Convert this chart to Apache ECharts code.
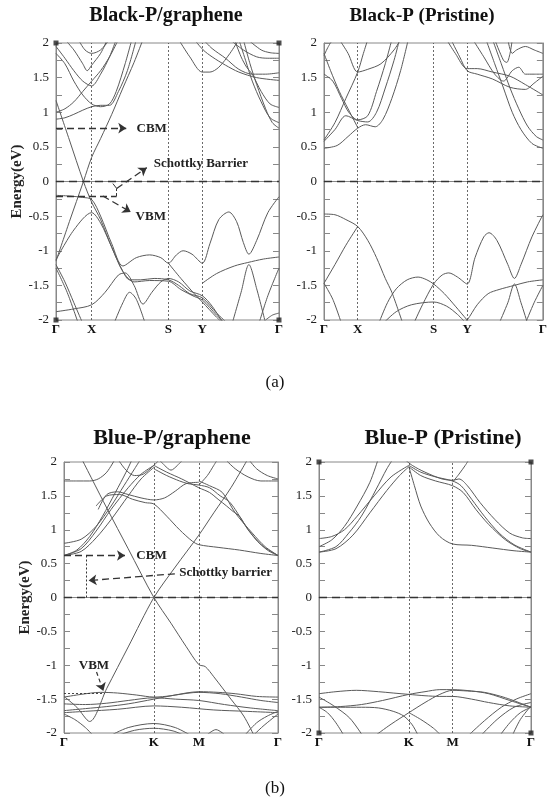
<!DOCTYPE html>
<html><head><meta charset="utf-8">
<script src="https://cdn.jsdelivr.net/npm/echarts@6/dist/echarts.min.js"></script>
<style>html,body{margin:0;padding:0;background:#fff}#c{width:550px;height:804px}</style>
</head><body><div id="c"></div>
<script>
// ---------- high-symmetry points (k in % of path) ----------
const blackKpts = [0, 16, 50.4, 65.6, 100];
const blackKpts2 = [0, 15.4, 50.1, 65.4, 100];
const blackKlabels = ['Γ', 'X', 'S', 'Y', 'Γ'];
const blueKpts = [0, 42, 63, 100];
const blueKpts2 = [0, 42.4, 63, 100];
const blueKlabels = ['Γ', 'K', 'M', 'Γ'];
const energyTicks = [-2, 2, 0.5];

// ---------- Black-P / graphene bands [k, E(eV)] ----------
const blackGrBands = [
  [[0,-0.2],[6,-0.21],[12,-0.23],[16,-0.26],[20,-0.5],[25,-0.9],[30,-1.22],[36,-1.1],[42,-1.06],[47,-1.1],[50.4,-1.18],[54,-1.06],[57,-1.0],[61,-1.05],[65.6,-1.18],[69,-0.9],[73,-0.55],[77.5,-0.44],[81,-0.58],[84,-0.88],[86.5,-1.05],[90,-0.85],[95,-0.45],[100,-0.22]],
  [[0,1.17],[6,0.6],[12.3,0],[16,-0.3],[20,-0.55],[25,-0.95],[30,-1.3],[33,-1.42],[38,-1.42],[44,-1.4],[50.4,-1.42],[55,-1.5],[60,-1.62],[65.6,-1.68],[72,-1.9],[77,-2.05]],
  [[0,-1.13],[8,-0.7],[16,-0.45],[20,-0.6],[25,-0.95],[30,-1.3],[35,-1.45],[42,-1.43],[50.4,-1.44],[56,-1.56],[62,-1.66],[65.6,-1.71],[72,-1.93],[76,-2.05]],
  [[0,-1.15],[6,-0.58],[12.3,0],[16,0.35],[20,0.62],[25,0.97],[30,1.35],[35,1.72],[39,2.05]],
  [[0,-1.88],[8,-1.84],[16,-1.78],[22,-1.6],[28,-1.35],[31,-1.32],[35,-1.5],[39,-1.77],[43,-1.6],[47,-1.45],[50.4,-1.4],[55,-1.45],[60,-1.58],[65.6,-1.65],[70,-1.8],[75,-2.05]],
  [[26,-2.05],[30,-1.75],[33,-1.6],[36,-1.7],[40,-2.05]],
  [[0,-1.2],[4,-1.45],[8,-1.75],[12,-2.05]],
  [[0,-1.25],[5,-1.6],[10,-2.05]],
  [[50.4,-1.18],[56,-1.4],[62,-1.62],[65.6,-1.74],[72,-1.96],[75,-2.05]],
  [[65.6,-1.47],[72,-1.33],[80,-1.22],[86,-1.17],[93,-1.12],[100,-1.09]],
  [[79,-2.05],[83,-1.6],[86.5,-1.2],[90,-1.55],[94,-2.05]],
  [[91,-2.05],[95,-1.65],[100,-1.25]],
  [[94,-2.0],[97,-1.93],[100,-1.9]],
  [[0,0.9],[4,0.92],[8,0.97],[12,1.03],[16,1.08],[20,1.1],[24,1.1],[28,1.3],[32,1.6],[36,2.05]],
  [[0,1.0],[4,1.05],[8,1.15],[12,1.3],[16,1.45],[20,1.6],[24,1.8],[28,2.05]],
  [[0,1.85],[4,1.7],[8,1.45],[12,1.25],[16,1.12],[20,1.08],[24,1.12],[27,1.3],[31,1.7],[34,2.05]],
  [[0,1.95],[4,1.78],[8,1.6],[12,1.45],[16,1.38],[20,1.55],[24,1.8],[27,2.05]],
  [[10,2.05],[13,1.9],[16,1.85],[20,1.9],[24,2.05]],
  [[4,2.05],[8,1.9],[12,1.7],[14,1.6],[16,1.68],[20,1.85],[23,2.05]],
  [[55,2.05],[60,1.8],[65.6,1.58],[69,1.58],[73,1.65],[78,1.85],[82,2.05]],
  [[62,2.05],[66,1.9],[70,1.8],[76,1.68],[82,1.58],[90,1.5],[100,1.46]],
  [[66,2.05],[70,1.92],[76,1.78],[82,1.62],[88,1.55],[94,1.55],[100,1.57]],
  [[80,2.05],[83,1.8],[85.5,1.65],[88,1.55],[92,1.3],[96,1.12],[100,1.07]],
  [[82,2.05],[85,1.75],[88,1.45],[92,1.15],[96,0.92],[100,0.85]],
  [[84,2.05],[87,1.7],[90,1.4],[94,1.05],[97,0.85],[100,0.77]],
  [[78,2.05],[84,1.9],[90,1.8],[95,1.78],[100,1.78]],
  [[86,2.05],[92,1.9],[96,1.86],[100,1.85]]
];

// ---------- Black-P (pristine) bands ----------
const blackPrBands = [
  [[0,-0.47],[5,-0.48],[10,-0.55],[15.4,-0.65],[20,-0.85],[24,-1.1],[28,-1.4],[31,-1.6],[36,-2.05]],
  [[0,-1.47],[5,-1.2],[10,-0.92],[15.4,-0.65]],
  [[0,-1.47],[4,-1.7],[8,-2.05]],
  [[25,-2.05],[29,-1.75],[33,-1.55],[38,-1.42],[43,-1.38],[47,-1.42],[50.1,-1.48],[55,-1.62],[60,-1.8],[65.4,-2.0],[67,-2.05]],
  [[27,-2.05],[33,-1.88],[40,-1.78],[50.1,-1.74],[56,-1.8],[61,-1.92],[65,-2.05]],
  [[41,-2.05],[45,-1.78],[50.1,-1.48],[54,-1.35],[57,-1.32],[61,-1.38],[65.4,-1.48],[69,-1.1],[73,-0.8],[75.4,-0.74],[79,-0.85],[84,-1.2],[87,-1.4],[90,-1.2],[95,-0.8],[100,-0.48]],
  [[63,-2.05],[65.4,-2.0],[70,-1.78],[75,-1.62],[80,-1.56],[87,-1.5],[93,-1.45],[100,-1.42]],
  [[80,-2.05],[84,-1.75],[87,-1.48],[90,-1.75],[93,-2.05]],
  [[92,-2.05],[96,-1.75],[100,-1.5]],
  [[0,0.48],[6,0.52],[11,0.65],[15.4,0.77],[19,0.82],[23.4,0.79],[27,0.9],[31,1.2],[35,1.6],[38.5,2.05]],
  [[0,0.6],[5,0.85],[10,1.2],[15.4,1.58],[18,1.85],[20,2.05]],
  [[7,2.05],[11,1.85],[15.4,1.58],[20,1.62],[26,1.7],[32,1.9],[35,2.05]],
  [[0,0.58],[5,0.75],[10,0.95],[15.4,0.88],[20,0.86],[24,1.0],[28,1.35],[32,1.75],[34.5,2.05]],
  [[0,1.55],[4,1.45],[8,1.2],[11.3,1.0],[15.4,0.89],[20,0.95],[24,1.3],[28,1.7],[31,2.05]],
  [[0,1.85],[3,1.6],[7,1.3],[11,1.05],[15.4,0.78]],
  [[0,1.82],[2,1.95],[4,2.05]],
  [[56,2.05],[60,1.85],[65.4,1.63],[70,1.63],[77,1.58],[85,1.52],[92,1.4],[100,1.25]],
  [[58,2.05],[62,1.8],[65.4,1.6],[70,1.55],[77,1.48],[85,1.36],[92,1.33],[96,1.42],[100,1.52]],
  [[68,2.05],[73,1.8],[78,1.55],[82,1.45],[86,1.6],[89,1.65],[92,1.55],[96,1.55],[100,1.55]],
  [[74,2.05],[78,1.7],[82,1.35],[86,1.0],[90,0.75],[95,0.55],[100,0.48]],
  [[77,2.05],[81,1.7],[85,1.35],[89,1.05],[93,0.8],[97,0.65],[100,0.6]],
  [[84,2.05],[86,1.85],[88,1.9],[92,1.95],[96,1.9],[100,1.85]],
  [[78,2.05],[82,1.75],[83.5,1.72],[85,1.85],[86,2.05]]
];

// ---------- Blue-P / graphene bands ----------
const blueGrBands = [
  [[8.2,2.05],[20,1.32],[30,0.72],[42,0.0],[50,-0.38],[57,-0.72],[63,-0.99],[66,-1.02],[70,-1.17],[78,-1.5],[84,-1.75],[89,-2.05]],
  [[0,-1.46],[6,-1.62],[12,-1.83],[20,-1.34],[30,-0.73],[42,0.0],[52,0.45],[63,0.92],[70,1.25],[78,1.62],[86,2.05]],
  [[0,-1.47],[8,-1.43],[17,-1.4],[25,-1.41],[34,-1.44],[42,-1.47],[50,-1.45],[57,-1.41],[63,-1.39],[72,-1.4],[80,-1.42],[90,-1.46],[100,-1.47]],
  [[0,-1.57],[10,-1.58],[20,-1.56],[30,-1.52],[42,-1.48],[52,-1.5],[63,-1.52],[75,-1.58],[87,-1.63],[100,-1.67]],
  [[0,-1.67],[10,-1.64],[20,-1.61],[30,-1.57],[42,-1.5],[52,-1.44],[63,-1.4],[73,-1.42],[83,-1.47],[92,-1.52],[100,-1.55]],
  [[0,-1.7],[10,-1.68],[25,-1.65],[42,-1.6],[55,-1.62],[70,-1.66],[85,-1.68],[100,-1.7]],
  [[21,-2.05],[30,-1.92],[42,-1.86],[52,-1.92],[60,-2.05]],
  [[24,-2.05],[33,-1.96],[42,-1.93],[51,-1.97],[57,-2.05]],
  [[0,-1.72],[5,-1.8],[10,-1.92],[14,-2.05]],
  [[84,-2.05],[90,-1.85],[95,-1.75],[100,-1.68]],
  [[88,-2.05],[93,-1.9],[100,-1.72]],
  [[66,-2.05],[71,-1.95],[76,-2.05]],
  [[0,0.62],[8,0.68],[15,0.88],[22,1.15],[30,1.5],[36,1.75],[42,1.92]],
  [[0,0.62],[8,0.72],[15,0.98],[22,1.3],[30,1.62],[36,1.82],[42,1.95]],
  [[0,0.8],[8,0.86],[15,1.05],[22,1.35],[28,1.65],[33,1.9],[36,2.05]],
  [[0,0.62],[6,0.7],[12,0.9],[18,1.2],[24,1.55],[29,1.85],[32,2.05]],
  [[0,1.72],[6,1.72],[12,1.72],[16,1.75],[20,1.85],[24,2.05]],
  [[16,1.3],[20,1.52],[25,1.56],[30,1.52],[36,1.47],[42,1.44],[47,1.47],[52,1.57],[57,1.68],[63,1.7]],
  [[15,1.35],[20,1.5],[26,1.52],[32,1.45],[38,1.4],[42,1.38],[48,1.2],[54,1.0],[60,0.83],[63,0.78],[72,0.74],[82,0.7],[92,0.65],[100,0.62]],
  [[42,1.9],[48,1.8],[54,1.72],[58,1.68],[63,1.66],[68,1.62],[73,1.5],[77,1.42],[80,1.3],[85,1.05],[90,0.85],[95,0.7],[100,0.62]],
  [[42,1.95],[48,1.85],[55,1.75],[63,1.62],[68,1.55],[72,1.45],[76,1.35],[79,1.27],[82,1.2],[86,1.0],[92,0.78],[100,0.62]],
  [[63,1.72],[68,1.65],[74,1.55],[80,1.25],[88,0.95],[94,0.75],[100,0.62]],
  [[75,2.05],[80,1.9],[86,1.78],[92,1.72],[100,1.72]],
  [[86,2.05],[90,1.9],[95,1.8],[100,1.75]],
  [[44,2.05],[47,1.95],[50,1.88],[53,1.95],[56,2.05]],
  [[25,2.05],[29,1.88],[33,1.8],[37,1.82],[42,1.95],[45,2.05]],
  [[63,1.66],[67,1.8],[70,1.95],[72,2.05]]
];

// ---------- Blue-P (pristine) bands ----------
const bluePrBands = [
  [[0,0.67],[8,0.72],[16,0.92],[24,1.25],[32,1.58],[38,1.8],[42.4,1.93]],
  [[0,0.67],[8,0.75],[14,0.95],[20,1.2],[27,1.6],[32,1.9],[35,2.05]],
  [[0,0.87],[6,0.9],[12,1.0],[18,1.2],[26,1.5],[34,1.78],[42.4,1.95]],
  [[0,0.75],[6,0.85],[12,1.05],[18,1.35],[24,1.7],[28,2.05]],
  [[42.4,1.93],[45,1.65],[48,1.35],[52,1.1],[57,0.9],[63,0.79],[72,0.77],[82,0.73],[92,0.69],[100,0.67]],
  [[42.4,1.95],[48,1.85],[55,1.78],[63,1.72],[67,1.65],[72,1.45],[78,1.2],[85,0.95],[92,0.78],[100,0.67]],
  [[42.4,1.93],[48,1.8],[55,1.72],[63,1.65],[68,1.55],[74,1.3],[80,1.08],[88,0.85],[95,0.72],[100,0.67]],
  [[40,2.05],[44,1.95],[50,1.85],[58,1.75],[63,1.73],[66,1.75],[70,1.65],[76,1.4],[83,1.15],[90,0.95],[96,0.88],[100,0.87]],
  [[63,1.7],[66,1.82],[69,1.95],[71,2.05]],
  [[0,-1.42],[8,-1.39],[17.6,-1.37],[28,-1.39],[35,-1.41],[42.4,-1.43],[50,-1.45],[57,-1.46],[63,-1.46],[72,-1.5],[80,-1.55],[90,-1.6],[100,-1.62]],
  [[0,-1.62],[10,-1.61],[20,-1.58],[30,-1.52],[42.4,-1.43],[50,-1.39],[57,-1.36],[63,-1.36],[72,-1.38],[80,-1.42],[90,-1.52],[100,-1.62]],
  [[0,-1.62],[10,-1.62],[20,-1.62],[28,-1.63],[35,-1.68],[40,-1.75],[44,-1.88],[47,-2.05]],
  [[0,-1.47],[7,-1.6],[14.5,-1.78],[20.8,-2.05]],
  [[26,-2.05],[34,-1.87],[42.4,-1.7],[50,-1.55],[57,-1.43],[63,-1.37],[70,-1.38],[78,-1.4],[88,-1.48],[100,-1.62]],
  [[42.4,-1.7],[48,-1.8],[54,-1.93],[58,-2.05]],
  [[0,-1.62],[4,-1.7],[8,-1.85],[12,-2.05]],
  [[70,-2.05],[78,-1.82],[86,-1.62],[93,-1.5],[100,-1.42]],
  [[76,-2.05],[84,-1.8],[92,-1.62],[100,-1.55]],
  [[85,-2.05],[90,-1.85],[95,-1.7],[100,-1.62]],
  [[91,-2.05],[95,-1.8],[100,-1.6]]
];

// ---------- layout ----------
const grids = [
  {left: 56, top: 43, width: 223, height: 277},
  {left: 324, top: 43, width: 224, height: 277},
  {left: 64, top: 462, width: 214, height: 271},
  {left: 319, top: 462, width: 212, height: 271}
];
const kptsPerGrid = [blackKpts, blackKpts2, blueKpts, blueKpts2];
const klabPerGrid = [blackKlabels, blackKlabels, blueKlabels, blueKlabels];
const SERIF = '"Liberation Serif", "DejaVu Serif", serif';
const LINE = '#5a5a5a';

const xAxes = [], yAxes = [], series = [];
grids.forEach((g, i) => {
  const kp = kptsPerGrid[i], kl = klabPerGrid[i];
  xAxes.push({
    gridIndex: i, type: 'value', min: 0, max: 100,
    axisLine: {show: true, lineStyle: {color: '#888', width: 1}},
    axisTick: {show: false}, splitLine: {show: false},
    axisLabel: {
      customValues: kp, margin: 3, color: '#111', fontFamily: SERIF, fontWeight: 'bold', fontSize: 13,
      formatter: v => { let idx = kp.findIndex(p => Math.abs(p - v) < 0.01); return idx >= 0 ? kl[idx] : ''; }
    }
  });
  const yBase = {
    gridIndex: i, type: 'value', min: energyTicks[0], max: energyTicks[1], interval: energyTicks[2],
    axisLine: {show: true, lineStyle: {color: '#888', width: 1}},
    axisTick: {show: true, inside: true, length: 6, lineStyle: {color: '#888'}},
    minorTick: {show: true, splitNumber: 2, length: 6, lineStyle: {color: '#888'}},
    splitLine: {show: false}
  };
  yAxes.push(Object.assign({}, yBase, {
    position: 'left',
    axisLabel: {show: true, margin: 7, color: '#222', fontFamily: SERIF, fontSize: 13},
    name: (i === 0 || i === 2) ? 'Energy(eV)' : '',
    nameLocation: 'middle', nameGap: i === 0 ? 31 : 26, nameRotate: 90,
    nameTextStyle: {fontFamily: SERIF, fontWeight: 'bold', fontSize: 15, color: '#222'}
  }));
  yAxes.push(Object.assign({}, yBase, {position: 'right', axisLabel: {show: false}}));
});

function addBands(bands, gi) {
  bands.forEach(b => series.push({
    type: 'line', xAxisIndex: gi, yAxisIndex: gi * 2, data: b, smooth: 0.3,
    showSymbol: false, silent: true, animation: false,
    lineStyle: {color: LINE, width: 1}
  }));
}
addBands(blackGrBands, 0);
addBands(blackPrBands, 1);
addBands(blueGrBands, 2);
addBands(bluePrBands, 3);

const dash = {type: [7, 4], color: '#333', width: 1.3};
function arrow(a, b, style) {
  return [{coord: a, symbol: 'none', lineStyle: style || dash}, {coord: b, symbol: 'arrow', symbolSize: 8}];
}
function seg(a, b, style) {
  return [{coord: a, symbol: 'none', lineStyle: style || dash}, {coord: b, symbol: 'none'}];
}
const vdot = {type: [2, 2], color: '#444', width: 0.8};
const hzero = {type: [8, 5], color: '#333', width: 1.4};
const txt = (k, e, s) => ({coord: [k, e], name: s, symbol: 'circle', symbolSize: 1, itemStyle: {color: 'rgba(0,0,0,0)'},
  label: {show: true, position: 'inside', formatter: '{b}', fontFamily: SERIF, fontWeight: 'bold', fontSize: 13, color: '#222'}});

const annot = [
  { // panel 1
    squares: true,
    lines: [
      seg([0, 0], [100, 0], hzero),
      ...[16, 50.4, 65.6].map(k => seg([k, -2], [k, 2], vdot)),
      arrow([0, 0.77], [31.5, 0.77]),
      seg([0, -0.21], [27.2, -0.21]),
      seg([27.2, -0.21], [27.2, -0.1], {type: [3, 2], color: '#333', width: 1}),
      arrow([27.2, -0.1], [40.7, 0.2]),
      seg([27.2, -0.1], [25.5, -0.03], {type: 'solid', color: '#333', width: 1}),
      arrow([21, -0.21], [33.5, -0.44])
    ],
    texts: [txt(42.9, 0.76, 'CBM'), txt(65, 0.26, 'Schottky Barrier'), txt(42.5, -0.51, 'VBM')]
  },
  { squares: false,
    lines: [seg([0, 0], [100, 0], hzero), ...[15.4, 50.1, 65.4].map(k => seg([k, -2], [k, 2], vdot))],
    texts: [] },
  { squares: false,
    lines: [
      seg([0, 0], [100, 0], hzero),
      ...[42, 63].map(k => seg([k, -2], [k, 2], vdot)),
      arrow([0, 0.62], [28.5, 0.62]),
      seg([10.3, 0.62], [10.3, 0], {type: [2, 2], color: '#333', width: 1}),
      arrow([51.8, 0.35], [11.5, 0.25]),
      arrow([15.2, -1.1], [18.4, -1.38], {type: [4, 3], color: '#333', width: 1.2}),
      seg([0, -1.41], [19, -1.41], {type: [2, 2], color: '#333', width: 0.9})
    ],
    texts: [txt(40.9, 0.62, 'CBM'), txt(75.5, 0.36, 'Schottky barrier'), txt(14, -1.01, 'VBM')]
  },
  { squares: true,
    lines: [seg([0, 0], [100, 0], hzero), ...[42.4, 63].map(k => seg([k, -2], [k, 2], vdot))],
    texts: [] }
];
annot.forEach((a, gi) => {
  series.push({
    type: 'scatter', xAxisIndex: gi, yAxisIndex: gi * 2, silent: true, animation: false, clip: false,
    data: [[0, 2], [100, 2], [0, -2], [100, -2]],
    symbol: 'rect', symbolSize: a.squares ? 5 : 0, itemStyle: {color: '#222'},
    markLine: {silent: true, animation: false, symbol: ['none', 'none'], label: {show: false}, data: a.lines},
    markPoint: {silent: true, animation: false, data: a.texts}
  });
});

const titleStyle = (size) => ({fontFamily: SERIF, fontWeight: 'bold', fontSize: size, fill: '#111', textAlign: 'center', textVerticalAlign: 'middle'});
const graphic = [
  {type: 'text', x: 166, y: 16, style: Object.assign({text: 'Black-P/graphene'}, titleStyle(20))},
  {type: 'text', x: 422, y: 16, style: Object.assign({text: 'Black-P (Pristine)'}, titleStyle(19))},
  {type: 'text', x: 275, y: 383, style: {text: '(a)', fontFamily: SERIF, fontSize: 17, fill: '#111', textAlign: 'center', textVerticalAlign: 'middle'}},
  {type: 'text', x: 172, y: 438, style: Object.assign({text: 'Blue-P/graphene'}, titleStyle(22))},
  {type: 'text', x: 443, y: 438, style: Object.assign({text: 'Blue-P (Pristine)'}, titleStyle(22))},
  {type: 'text', x: 275, y: 789, style: {text: '(b)', fontFamily: SERIF, fontSize: 17, fill: '#111', textAlign: 'center', textVerticalAlign: 'middle'}}
];

const chart = echarts.init(document.getElementById('c'), null, {renderer: 'canvas'});
chart.setOption({
  animation: false,
  backgroundColor: '#fff',
  grid: grids.map(g => Object.assign({containLabel: false, show: true, borderColor: '#888', borderWidth: 1, backgroundColor: 'transparent'}, g)),
  xAxis: xAxes,
  yAxis: yAxes,
  series: series,
  graphic: graphic
});
</script>
</body></html>
